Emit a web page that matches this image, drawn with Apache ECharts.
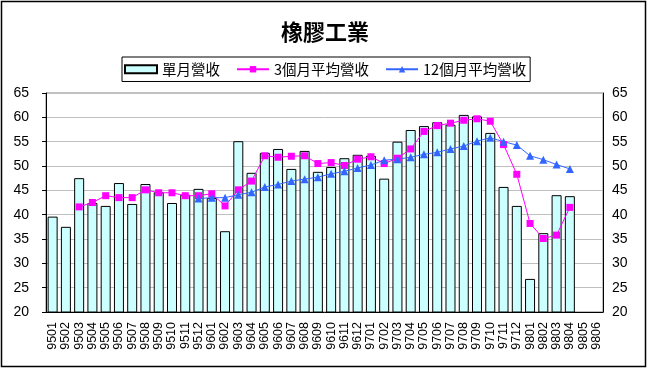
<!DOCTYPE html>
<html><head><meta charset="utf-8">
<script src="https://cdn.jsdelivr.net/npm/echarts@6/dist/echarts.min.js"></script>
<style>html,body{margin:0;padding:0;background:#fff}#c{width:650px;height:369px}</style>
</head><body><div id="c"></div>
<script>
var categories = ['9501','9502','9503','9504','9505','9506','9507','9508','9509','9510','9511','9512',
 '9601','9602','9603','9604','9605','9606','9607','9608','9609','9610','9611','9612',
 '9701','9702','9703','9704','9705','9706','9707','9708','9709','9710','9711','9712',
 '9801','9802','9803','9804','9805','9806'];
var monthly = [39.6,37.5,47.5,42.4,41.8,46.5,42.2,46.3,44.6,42.4,44.1,45.3,
 43.4,36.6,55.1,48.6,52.7,53.5,49.4,53.1,48.8,49.8,51.6,52.3,
 52.1,47.4,55.0,57.4,58.2,59.0,58.5,60.5,60.2,56.8,45.7,41.8,
 26.8,36.2,44.0,43.8,null,null];
var avg3 = [null,null,41.6,42.5,43.9,43.5,43.5,45.1,44.5,44.5,43.9,43.9,
 44.3,41.8,45.1,46.9,52.1,51.8,52.0,52.1,50.5,50.7,50.1,51.4,
 51.9,50.5,51.6,53.5,57.1,58.3,58.8,59.4,59.7,59.2,54.4,48.3,
 38.2,35.1,35.8,41.5,null,null];
var avg12 = [null,null,null,null,null,null,null,null,null,null,null,43.3,
 43.5,43.5,44.1,44.6,45.7,46.2,46.9,47.3,47.7,48.4,48.9,49.6,
 50.2,51.2,51.4,51.8,52.4,52.8,53.5,54.1,55.1,55.8,55.0,54.3,
 52.1,51.3,50.3,49.4,null,null];
var yTicks = {min:20, max:65, interval:5};

var numFont = '"Liberation Sans", Arial, sans-serif';
var cjkFont = '"Noto Sans CJK TC", "Liberation Sans", sans-serif';
var chart = echarts.init(document.getElementById('c'), null, {renderer:'canvas'});
chart.setOption({
  animation:false,
  backgroundColor:'#fff',
  title:{text:'橡膠工業', left:'center', top:21, padding:0,
    textStyle:{fontFamily:cjkFont, fontSize:22, fontWeight:'bold', color:'#000'}},
  legend:{left:122, top:57, padding:[5,4,5,2], itemGap:16, itemWidth:32, itemHeight:8,
    borderColor:'#000', borderWidth:1,
    textStyle:{fontFamily:cjkFont, fontSize:14.5, color:'#000'},
    data:[{name:'單月營收', icon:'rect'},{name:'3個月平均營收'},{name:'12個月平均營收'}]},
  graphic:[{type:'rect', shape:{x:1.5,y:1.5,width:644,height:365}, style:{fill:null, stroke:'#000', lineWidth:1.5}, silent:true}],
  grid:{left:46, right:47, top:93, bottom:57, show:true, borderColor:'#808080', borderWidth:1},
  xAxis:{type:'category', data:categories, boundaryGap:true,
    axisLine:{lineStyle:{color:'#000'}}, axisTick:{show:false},
    axisLabel:{rotate:90, interval:0, margin:10, fontFamily:numFont, fontSize:12.5, color:'#000'}},
  yAxis:[
    {type:'value', min:yTicks.min, max:yTicks.max, interval:yTicks.interval, position:'left',
     axisLine:{show:true, lineStyle:{color:'#000'}}, axisTick:{show:true, length:4, lineStyle:{color:'#000'}},
     splitLine:{lineStyle:{color:'#c0c0c0'}},
     axisLabel:{margin:17, fontFamily:numFont, fontSize:14, color:'#000'}},
    {type:'value', min:yTicks.min, max:yTicks.max, interval:yTicks.interval, position:'right',
     axisLine:{show:true, lineStyle:{color:'#000'}}, axisTick:{show:false},
     splitLine:{show:false},
     axisLabel:{margin:9, fontFamily:numFont, fontSize:14, color:'#000'}}
  ],
  series:[
    {name:'單月營收', type:'bar', data:monthly, barWidth:10,
     itemStyle:{color:'#ccffff', borderColor:'#000', borderWidth:1}},
    {name:'3個月平均營收', type:'line', data:avg3, symbol:'rect', symbolSize:7,
     itemStyle:{color:'#ff00ff'}, lineStyle:{color:'#ff00ff', width:1}},
    {name:'12個月平均營收', type:'line', data:avg12, symbol:'triangle', symbolSize:8,
     itemStyle:{color:'#3366ff'}, lineStyle:{color:'#3366ff', width:1}}
  ]
});
</script></body></html>
